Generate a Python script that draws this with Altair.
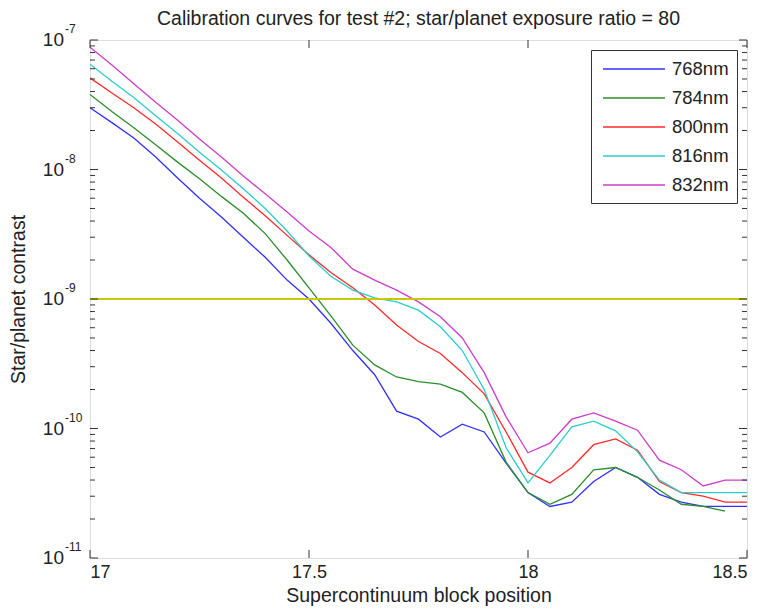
import altair as alt
import pandas as pd

# ---------------- data ----------------
positions = [17.00, 17.05, 17.10, 17.15, 17.20, 17.25, 17.30, 17.35, 17.40, 17.45,
             17.50, 17.55, 17.60, 17.65, 17.70, 17.75, 17.80, 17.85, 17.90, 17.95,
             18.00, 18.05, 18.10, 18.15, 18.20, 18.25, 18.30, 18.35, 18.40, 18.45,
             18.50]

c768 = [3.0e-8, 2.3e-8, 1.75e-8, 1.25e-8, 8.6e-9, 6.0e-9, 4.3e-9, 3.0e-9, 2.1e-9, 1.4e-9,
        1.0e-9, 6.5e-10, 4.0e-10, 2.6e-10, 1.36e-10, 1.18e-10, 8.6e-11, 1.08e-10, 9.4e-11, 5.4e-11,
        3.2e-11, 2.5e-11, 2.7e-11, 3.9e-11, 5.0e-11, 4.2e-11, 3.1e-11, 2.7e-11, 2.5e-11, 2.5e-11,
        2.5e-11]
c784 = [3.8e-8, 2.8e-8, 2.1e-8, 1.55e-8, 1.14e-8, 8.5e-9, 6.2e-9, 4.6e-9, 3.2e-9, 2.0e-9,
        1.22e-9, 7.4e-10, 4.4e-10, 3.1e-10, 2.5e-10, 2.3e-10, 2.2e-10, 1.9e-10, 1.32e-10, 5.5e-11,
        3.2e-11, 2.6e-11, 3.1e-11, 4.8e-11, 5.0e-11, 4.2e-11, 3.35e-11, 2.6e-11, 2.5e-11, 2.3e-11]
c800 = [5.1e-8, 3.9e-8, 3.0e-8, 2.25e-8, 1.63e-8, 1.18e-8, 8.6e-9, 6.1e-9, 4.4e-9, 3.1e-9,
        2.2e-9, 1.6e-9, 1.22e-9, 9.0e-10, 6.3e-10, 4.7e-10, 3.8e-10, 2.7e-10, 1.85e-10, 9.4e-11,
        4.6e-11, 3.8e-11, 5.0e-11, 7.5e-11, 8.3e-11, 6.8e-11, 3.9e-11, 3.2e-11, 3.0e-11, 2.7e-11,
        2.7e-11]
c816 = [6.5e-8, 4.8e-8, 3.6e-8, 2.6e-8, 1.9e-8, 1.36e-8, 9.9e-9, 7.1e-9, 5.0e-9, 3.35e-9,
        2.15e-9, 1.5e-9, 1.17e-9, 1.02e-9, 9.5e-10, 8.2e-10, 6.1e-10, 4.0e-10, 2.0e-10, 7.1e-11,
        3.8e-11, 6.2e-11, 1.03e-10, 1.14e-10, 9.6e-11, 6.6e-11, 4.0e-11, 3.2e-11, 3.2e-11, 3.2e-11,
        3.2e-11]
c832 = [8.8e-8, 6.4e-8, 4.6e-8, 3.3e-8, 2.4e-8, 1.72e-8, 1.25e-8, 8.9e-9, 6.5e-9, 4.7e-9,
        3.35e-9, 2.5e-9, 1.7e-9, 1.4e-9, 1.17e-9, 9.5e-10, 7.3e-10, 5.0e-10, 2.7e-10, 1.23e-10,
        6.5e-11, 7.7e-11, 1.18e-10, 1.32e-10, 1.14e-10, 9.7e-11, 5.7e-11, 4.8e-11, 3.6e-11, 4.0e-11,
        4.0e-11]

series_names = ["768nm", "784nm", "800nm", "816nm", "832nm"]
series_values = [c768, c784, c800, c816, c832]
series_colors = ["#3030ff", "#2a8f2a", "#ff2a2a", "#2ccccc", "#cc3ccc"]

threshold = [1e-9]
x_ticks = [17, 17.5, 18, 18.5]
y_major = [1e-11, 1e-10, 1e-9, 1e-8, 1e-7]
y_exp = ["-11", "-10", "-9", "-8", "-7"]
y_minor = [m * 10.0 ** e for e in (-11, -10, -9, -8) for m in range(2, 10)]

# ---------------- tables ----------------
rows = []
for name, vals in zip(series_names, series_values):
    for xv, yv in zip(positions, vals):
        rows.append({"pos": xv, "contrast": yv, "series": name})
df = pd.DataFrame(rows)

W, H = 657, 518
FONT = "Liberation Sans"
TXT = "#222222"
AX = "#333333"

xs = alt.Scale(domain=[17, 18.5], nice=False, zero=False)
ys = alt.Scale(type="log", domain=[1e-11, 1e-7], nice=False)

lines = alt.Chart(df).mark_line(strokeWidth=1.3, clip=True).encode(
    x=alt.X("pos:Q", scale=xs,
            axis=alt.Axis(values=x_ticks, format="~g", title="Supercontinuum block position",
                          ticks=False, tickSize=0, domain=False, grid=False,
                          labelFontSize=18, labelPadding=5, labelFont=FONT, labelColor=TXT,
                          titleFontSize=19.5, titleFont=FONT, titleFontWeight="normal",
                          titleColor=TXT, titlePadding=5)),
    y=alt.Y("contrast:Q", scale=ys,
            axis=alt.Axis(labels=False, ticks=False, tickSize=0, domain=False, grid=False,
                          title="Star/planet contrast", titleFontSize=19.5, titleFont=FONT,
                          titleFontWeight="normal", titleColor=TXT, titlePadding=62)),
    color=alt.Color("series:N", scale=alt.Scale(domain=series_names, range=series_colors),
                    legend=alt.Legend(title=None, orient="top-right", offset=10,
                                      strokeColor=AX, fillColor="white", padding=8,
                                      symbolType="M-0.7,0H5.5", symbolSize=400,
                                      symbolStrokeWidth=1.5, labelFontSize=18.5,
                                      labelFont=FONT, labelColor=TXT, labelOffset=51,
                                      rowPadding=8)),
    order=alt.Order("series:N"),
)

thr = alt.Chart(pd.DataFrame({"contrast": threshold})).mark_rule(
    color="#c8c800", strokeWidth=1.8).encode(y=alt.Y("contrast:Q", scale=ys))

xt_df = pd.DataFrame({"pos": x_ticks})
xt_bot = alt.Chart(xt_df).mark_rule(color=AX, strokeWidth=1).encode(
    x=alt.X("pos:Q", scale=xs), y=alt.value(H), y2=alt.value(H - 8))
xt_top = alt.Chart(xt_df).mark_rule(color=AX, strokeWidth=1).encode(
    x=alt.X("pos:Q", scale=xs), y=alt.value(0), y2=alt.value(8))

ymaj_df = pd.DataFrame({"contrast": y_major, "exp": y_exp})
ymin_df = pd.DataFrame({"contrast": y_minor})
yt_l = alt.Chart(ymaj_df).mark_rule(color=AX, strokeWidth=1).encode(
    y=alt.Y("contrast:Q", scale=ys), x=alt.value(0), x2=alt.value(8))
yt_r = alt.Chart(ymaj_df).mark_rule(color=AX, strokeWidth=1).encode(
    y=alt.Y("contrast:Q", scale=ys), x=alt.value(W), x2=alt.value(W - 8))
ym_l = alt.Chart(ymin_df).mark_rule(color=AX, strokeWidth=1).encode(
    y=alt.Y("contrast:Q", scale=ys), x=alt.value(0), x2=alt.value(5))
ym_r = alt.Chart(ymin_df).mark_rule(color=AX, strokeWidth=1).encode(
    y=alt.Y("contrast:Q", scale=ys), x=alt.value(W), x2=alt.value(W - 5))

lab10 = alt.Chart(ymaj_df).mark_text(align="right", baseline="middle", fontSize=19,
                                     font=FONT, color=TXT).encode(
    y=alt.Y("contrast:Q", scale=ys), x=alt.value(-26), text=alt.value("10"))
labexp = alt.Chart(ymaj_df).mark_text(align="left", baseline="alphabetic", fontSize=12,
                                      font=FONT, color=TXT, dy=-7).encode(
    y=alt.Y("contrast:Q", scale=ys), x=alt.value(-25), text="exp:N")

chart = alt.layer(lines, thr, xt_bot, xt_top, yt_l, yt_r, ym_l, ym_r, lab10, labexp).properties(
    width=W, height=H,
    title=alt.TitleParams("Calibration curves for test #2; star/planet exposure ratio = 80",
                          fontSize=19.5, font=FONT, fontWeight="normal", color=TXT,
                          anchor="middle", frame="group", offset=-6),
    autosize=alt.AutoSizeParams(type="none"),
    padding={"left": 90, "top": 40, "right": 30, "bottom": 55},
).configure_view(stroke=AX, strokeWidth=1.2).configure(background="white")

chart.save("out.html", embed_options={"renderer": "svg", "actions": False})
